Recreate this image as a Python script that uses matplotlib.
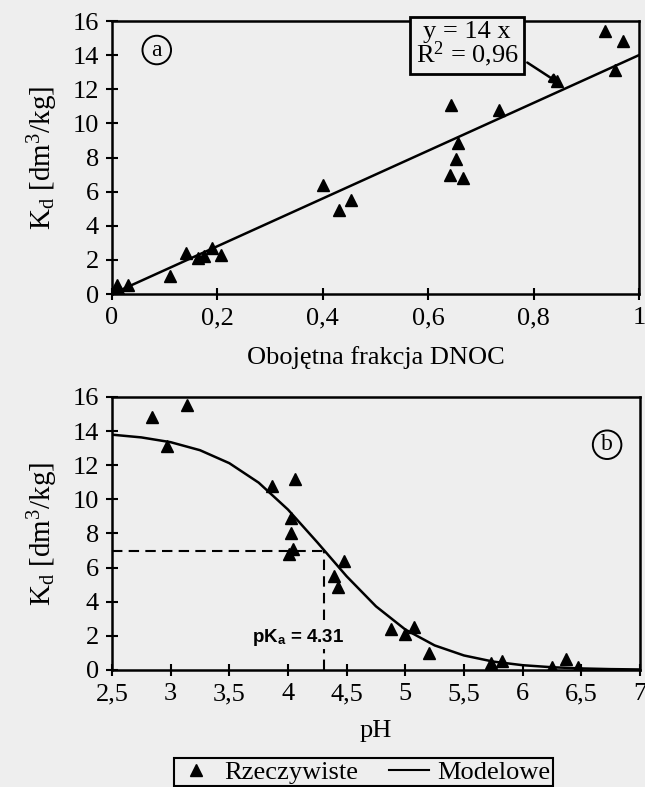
import numpy as np
import matplotlib.pyplot as plt
from matplotlib.lines import Line2D

plt.rcParams['font.family'] = 'Liberation Serif'
plt.rcParams['mathtext.fontset'] = 'custom'
plt.rcParams['mathtext.rm'] = 'Liberation Serif'
plt.rcParams['mathtext.it'] = 'Liberation Serif:italic'
plt.rcParams['mathtext.sf'] = 'Liberation Sans:bold'

BG = '#eeeeee'

# panel a: neutral DNOC fraction vs Kd
frac_x = [0.0, 0.01, 0.015, 0.03, 0.11, 0.14, 0.163, 0.175, 0.189, 0.207,
          0.40, 0.43, 0.453, 0.643, 0.657, 0.652, 0.641, 0.667, 0.734,
          0.844, 0.936, 0.969, 0.955]
frac_kd = [0.0, 0.55, 0.1, 0.5, 1.05, 2.4, 2.1, 2.2, 2.7, 2.3,
           6.4, 4.9, 5.5, 11.1, 8.85, 7.9, 7.0, 6.8, 10.8,
           12.5, 15.4, 14.8, 13.1]
slope = 14  # y = 14 x
fit_x = np.array([0.0, 1.0])

# panel b: pH vs Kd
ph = [2.84, 3.14, 2.97, 3.86, 4.06, 4.03, 4.03, 4.04, 4.01, 4.48, 4.39, 4.43,
      4.88, 5.0, 5.07, 5.2, 5.73, 5.82, 6.25, 6.37, 6.47]
ph_kd = [14.8, 15.5, 13.1, 10.8, 11.2, 8.9, 8.0, 7.1, 6.8, 6.4, 5.5, 4.85,
         2.4, 2.1, 2.5, 1.0, 0.4, 0.5, 0.15, 0.65, 0.15]
# model curve
model_ph = [2.5, 2.75, 3.0, 3.25, 3.5, 3.75, 4.0, 4.25, 4.5, 4.75, 5.0,
            5.25, 5.5, 5.75, 6.0, 6.25, 6.5, 6.75, 7.0]
model_kd = [13.79, 13.63, 13.35, 12.88, 12.12, 10.98, 9.40, 7.48, 5.49, 3.73, 2.37,
            1.44, 0.85, 0.49, 0.28, 0.16, 0.09, 0.05, 0.03]
pka = 4.31
kd_half = 7.0

fig = plt.figure(figsize=(6.45, 7.87), dpi=100, facecolor=BG)
ax1 = fig.add_axes([0.1736, 0.6264, 0.817, 0.3469], facecolor=BG)
ax2 = fig.add_axes([0.1736, 0.1487, 0.8186, 0.3469], facecolor=BG)

ylab = 'K$_\\mathrm{d}$ [dm$^\\mathrm{3}$/kg]'
FS = 19

# ---- panel a
ax1.plot(fit_x, slope * fit_x, color='k', lw=1.8, zorder=2)
ax1.plot(frac_x, frac_kd, '^', color='k', ms=9, zorder=3)
ax1.set_xlim(0, 1)
ax1.set_ylim(0, 16)
ax1.set_xticks([0, 0.2, 0.4, 0.6, 0.8, 1])
ax1.set_xticklabels(['0', '0,2', '0,4', '0,6', '0,8', '1'])
ax1.set_yticks(range(0, 17, 2))
ax1.set_xlabel('Obojętna frakcja DNOC', fontsize=FS, labelpad=12)
ax1.set_ylabel(ylab, fontsize=21, labelpad=9)
ax1.annotate('y = 14 x\nR$^\\mathrm{2}$ = 0,96', xy=(0.856, 12.2), xytext=(0.674, 14.6),
             ha='center', va='center', fontsize=FS, linespacing=0.85,
             bbox=dict(boxstyle='square,pad=0.2', fc=BG, ec='k', lw=2),
             arrowprops=dict(arrowstyle='-|>', color='k', lw=1.8, relpos=(1.0, 0.25),
                             mutation_scale=15),
             annotation_clip=False, zorder=5)
ax1.text(0.085, 14.3, 'a', fontsize=17, ha='center', va='center',
         bbox=dict(boxstyle='circle,pad=0.16', fc=BG, ec='k', lw=1.4))

# ---- panel b
ax2.plot(model_ph, model_kd, color='k', lw=1.8, zorder=2)
ax2.plot(ph, ph_kd, '^', color='k', ms=9, zorder=3)
ax2.plot([2.5, pka], [kd_half, kd_half], '--', color='k', lw=1.5, dashes=(5, 3))
ax2.plot([pka, pka], [0, kd_half], '--', color='k', lw=1.5, dashes=(5, 3))
ax2.text(4.09, 1.9, 'pK$_\\mathsf{a}$ = 4.31', fontfamily='Liberation Sans',
         fontweight='bold', fontsize=13.5, ha='center', va='center',
         bbox=dict(fc=BG, ec='none', pad=0.5), zorder=4)
ax2.set_xlim(2.5, 7)
ax2.set_ylim(0, 16)
ph_ticks = [2.5, 3, 3.5, 4, 4.5, 5, 5.5, 6, 6.5, 7]
ax2.set_xticks(ph_ticks)
ax2.set_xticklabels([('%g' % t).replace('.', ',') for t in ph_ticks])
ax2.set_yticks(range(0, 17, 2))
ax2.set_xlabel('pH', fontsize=FS, labelpad=11)
ax2.set_ylabel(ylab, fontsize=21, labelpad=9)
ax2.text(6.72, 13.2, 'b', fontsize=17, ha='center', va='center',
         bbox=dict(boxstyle='circle,pad=0.16', fc=BG, ec='k', lw=1.4))

for ax in (ax1, ax2):
    for s in ax.spines.values():
        s.set_linewidth(1.8)
    ax.tick_params(direction='inout', length=9, width=1.5, labelsize=FS, pad=5)

handles = [Line2D([], [], marker='^', color='k', ls='none', ms=8),
           Line2D([], [], color='k', lw=1.5)]
leg = fig.legend(handles, ['Rzeczywiste', 'Modelowe'], loc='upper center',
                 bbox_to_anchor=(0.563, 0.054), ncol=2, fancybox=False, edgecolor='k',
                 facecolor=BG, framealpha=1, fontsize=FS, handlelength=1.5,
                 handletextpad=0.3, columnspacing=1.2, borderpad=0.1)
leg.get_frame().set_linewidth(1.5)

fig.savefig('out.png', dpi=100, facecolor=BG)
